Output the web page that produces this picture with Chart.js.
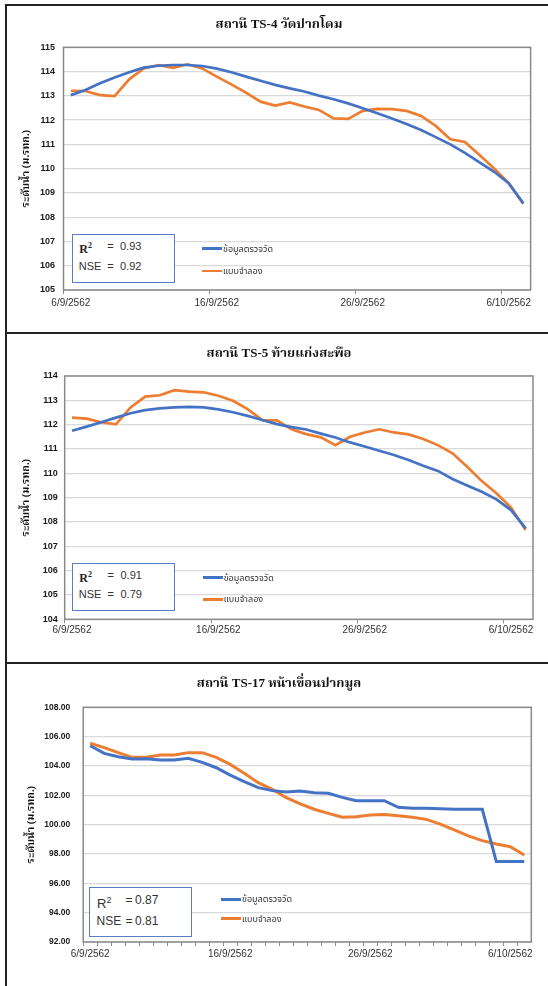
<!DOCTYPE html>
<html><head><meta charset="utf-8">
<script src="https://cdn.jsdelivr.net/npm/chart.js@4.4.0/dist/chart.umd.min.js"></script>
<style>
html,body{margin:0;padding:0;background:#fff;}
#page{position:relative;width:548px;height:986px;overflow:hidden;background:#fff;}
.panel{position:absolute;left:5px;width:620px;border-left:2px solid #222;border-top:2px solid #222;box-sizing:border-box;}
canvas{position:absolute;left:0;}
.ttl{position:absolute;left:0;width:558px;text-align:center;font-family:"Liberation Serif","Noto Serif Thai","Noto Sans Thai",serif;font-weight:bold;font-size:13px;color:#111;line-height:16px;white-space:nowrap;}
.stat{position:absolute;border:1.5px solid #5a7cc4;box-sizing:border-box;background:#fff;}
.stat span{position:absolute;white-space:nowrap;font-family:"Liberation Sans",sans-serif;color:#333;line-height:14px;}
.lg{position:absolute;white-space:nowrap;font-family:"Noto Sans Thai","Liberation Sans",sans-serif;font-size:9px;color:#333;line-height:12px;}
.lg i{position:absolute;left:0;width:20px;}
.lg b{position:absolute;font-weight:normal;}
</style></head>
<body><div id="page">
<div class="panel" style="top:4px;height:330px"></div>
<div class="panel" style="top:332px;height:332px"></div>
<div class="panel" style="top:662px;height:340px"></div>
<canvas id="c1" width="548" height="327" style="top:6px"></canvas>
<canvas id="c2" width="548" height="329" style="top:334px"></canvas>
<canvas id="c3" width="548" height="322" style="top:664px"></canvas>
</div>
<script>
// ---------- data ----------
const dateLabels = ['6/9/2562','7/9/2562','8/9/2562','9/9/2562','10/9/2562','11/9/2562','12/9/2562','13/9/2562',
  '14/9/2562','15/9/2562','16/9/2562','17/9/2562','18/9/2562','19/9/2562','20/9/2562','21/9/2562','22/9/2562',
  '23/9/2562','24/9/2562','25/9/2562','26/9/2562','27/9/2562','28/9/2562','29/9/2562','30/9/2562','1/10/2562',
  '2/10/2562','3/10/2562','4/10/2562','5/10/2562','6/10/2562','7/10/2562'];
const seriesNames = ['ข้อมูลตรวจวัด','แบบจำลอง'];
const chartTitles = ['สถานี  TS-4 วัดปากโดม','สถานี  TS-5 ท้ายแก่งสะพือ','สถานี  TS-17  หน้าเขื่อนปากมูล'];
const yAxisTitle = 'ระดับน้ำ (ม.รทก.)';
const statR2 = ['0.93','0.91','0.87'];
const statNSE = ['0.92','0.79','0.81'];

const ts4Observed = [113.03,113.24,113.52,113.76,113.97,114.16,114.24,114.27,114.27,114.23,114.12,113.97,113.79,113.62,113.45,113.31,
  113.18,113.01,112.86,112.69,112.49,112.28,112.07,111.84,111.59,111.30,111.00,110.65,110.26,109.87,109.40,108.57];
const ts4Model = [113.21,113.20,113.03,112.99,113.68,114.13,114.27,114.15,114.30,114.13,113.79,113.47,113.13,112.76,112.60,112.73,
  112.56,112.42,112.07,112.05,112.38,112.46,112.45,112.38,112.17,111.76,111.21,111.10,110.56,110.01,109.40,108.55];
const ts5Observed = [111.75,111.92,112.10,112.29,112.47,112.60,112.67,112.71,112.73,112.71,112.63,112.51,112.36,112.19,112.02,111.90,
  111.80,111.63,111.47,111.27,111.10,110.93,110.75,110.55,110.31,110.10,109.77,109.50,109.24,108.93,108.49,107.74];
const ts5Model = [112.29,112.25,112.10,112.01,112.71,113.15,113.21,113.42,113.36,113.33,113.19,112.98,112.64,112.19,112.18,111.81,
  111.61,111.48,111.16,111.50,111.68,111.81,111.68,111.60,111.41,111.16,110.82,110.27,109.68,109.18,108.59,107.67];
const ts17Observed = [105.38,104.86,104.63,104.48,104.50,104.41,104.41,104.52,104.25,103.88,103.38,102.93,102.52,102.32,102.23,102.29,
  102.18,102.14,101.86,101.63,101.63,101.63,101.18,101.11,101.11,101.09,101.05,101.05,101.05,97.48,97.48,97.48];
const ts17Model = [105.55,105.25,104.91,104.59,104.59,104.75,104.75,104.91,104.91,104.59,104.11,103.50,102.86,102.41,101.84,101.42,
  101.05,100.77,100.50,100.54,100.66,100.70,100.61,100.50,100.36,100.04,99.64,99.23,98.91,98.68,98.50,97.93];
const yMins = [105,104,92];
const yMaxs = [115,114,108];
const ySteps = [1,1,2];

// ---------- drawing ----------
const frame = {id:'frame', beforeDatasetsDraw(chart){
  const {ctx, chartArea:a} = chart; ctx.save(); ctx.strokeStyle='#8a8a8a'; ctx.lineWidth=1.5;
  ctx.strokeRect(a.left, a.top, a.right-a.left, a.bottom-a.top); ctx.restore(); }};

const tickFont = '"Liberation Sans Narrow","Liberation Sans",sans-serif';

function build(id, k, obs, mod, g){
  new Chart(document.getElementById(id), {
    type:'line',
    data:{labels:dateLabels, datasets:[
      {label:seriesNames[0], data:obs, borderColor:'#4472C4', borderWidth:g.lw, pointRadius:0, tension:0, fill:false},
      {label:seriesNames[1], data:mod, borderColor:'#ED7D31', borderWidth:g.lw, pointRadius:0, tension:0, fill:false}
    ]},
    options:{
      responsive:false, animation:false,
      layout:{padding:{left:g.pl, right:g.pr, top:g.pt, bottom:g.pb}},
      plugins:{legend:{display:false}, tooltip:{enabled:false}, title:{display:false}},
      scales:{
        x:{type:'category', offset:true,
          grid:{offset:true, drawOnChartArea:false, drawTicks:true, tickLength:4, lineWidth:1,
            color:(c)=> (c.index!==undefined && c.index % g.tickEvery===0) ? '#8a8a8a' : 'rgba(0,0,0,0)'},
          border:{display:false},
          ticks:{autoSkip:false, maxRotation:0, minRotation:0, padding:g.xp, color:'#333',
            font:{family:tickFont, size:10}, callback:(v,i)=> i%10===0 ? dateLabels[i] : ''},
          afterFit:(s)=>{ s.height = g.xh; }},
        y:{min:yMins[k], max:yMaxs[k],
          ticks:{stepSize:ySteps[k], padding:g.yp, color:'#1a1a1a', font:{family:tickFont, size:g.yfs, weight:'bold'},
            callback:(v)=> g.dec ? Number(v).toFixed(2) : v},
          grid:{color:'#d9d9d9', lineWidth:1.3, drawTicks:false},
          border:{display:false},
          title:{display:true, text:yAxisTitle, color:'#111', padding:{top:g.tp, bottom:0},
            font:{family:'"Liberation Serif","Noto Serif Thai","Noto Sans Thai",serif', size:10.5, weight:'bold'}},
          afterFit:(s)=>{ s.width = g.yw; }}
      }
    },
    plugins:[frame]
  });
}

build('c1', 0, ts4Observed, ts4Model, {lw:2.7, pl:8, pr:17.4, pt:41.3, pb:15, xh:28, yw:55.5, tp:11.7, xp:3.3, yp:8.5, yfs:9, dec:false, tickEvery:10});
build('c2', 1, ts5Observed, ts5Model, {lw:2.7, pl:8, pr:15, pt:42, pb:15.7, xh:28, yw:56.7, tp:11.9, xp:1.3, yp:7, yfs:9, dec:false, tickEvery:10});
build('c3', 2, ts17Observed, ts17Model, {lw:3, pl:8, pr:16.7, pt:43.3, pb:16, xh:28, yw:75.2, tp:16.5, xp:2.6, yp:13, yfs:8.5, dec:true, tickEvery:1});

// ---------- overlays: titles, stat boxes, legends ----------
const page = document.getElementById('page');
const titleY = [16, 345, 675];
chartTitles.forEach((t,i)=>{ const d=document.createElement('div'); d.className='ttl'; d.style.top=titleY[i]+'px'; d.textContent=t; page.appendChild(d); });

const statGeo = [
  {l:71.7, t:234, w:103, h:48.7, r2y:4, nsy:23.5, rx:6.6, ex:34.5, vx:47.3, fs:11, serifR:true},
  {l:71.7, t:562.7, w:103.8, h:48.3, r2y:4.3, nsy:23.5, rx:6.6, ex:34.8, vx:47.8, fs:11, serifR:true},
  {l:89, t:886.7, w:102.5, h:50, r2y:5, nsy:26.5, rx:7.1, ex:35.5, vx:45, fs:12, serifR:false}
];
statGeo.forEach((g,i)=>{
  const b=document.createElement('div'); b.className='stat';
  Object.assign(b.style,{left:g.l+'px', top:g.t+'px', width:g.w+'px', height:g.h+'px'});
  const rFont = g.serifR ? 'font-family:\'Liberation Serif\',serif;font-weight:bold;color:#222;' : '';
  b.innerHTML =
    `<span style="left:${g.rx}px;top:${g.r2y}px;font-size:${g.fs+1}px;${rFont}">R<sup style="font-size:${g.fs-3}px;vertical-align:5px">2</sup></span>`+
    `<span style="left:${g.ex}px;top:${g.r2y}px;font-size:${g.fs}px">=</span>`+
    `<span style="left:${g.vx}px;top:${g.r2y}px;font-size:${g.fs}px">${statR2[i]}</span>`+
    `<span style="left:${g.rx-0.5}px;top:${g.nsy}px;font-size:${g.fs}px">NSE</span>`+
    `<span style="left:${g.ex}px;top:${g.nsy}px;font-size:${g.fs}px">=</span>`+
    `<span style="left:${g.vx}px;top:${g.nsy}px;font-size:${g.fs}px">${statNSE[i]}</span>`;
  page.appendChild(b);
});

const legGeo = [ {x:202, y:[248.7,271], lw:2.7}, {x:202.7, y:[577.7,599.3], lw:2.7}, {x:221, y:[899.3,918.7], lw:3} ];
const legColors = ['#4472C4','#ED7D31'];
legGeo.forEach(g=>{
  seriesNames.forEach((n,j)=>{
    const d=document.createElement('div'); d.className='lg';
    Object.assign(d.style,{left:g.x+'px', top:(g.y[j]-6)+'px', width:'120px', height:'12px'});
    d.innerHTML = `<i style="top:${6-g.lw/2}px;height:${g.lw}px;background:${legColors[j]}"></i><b style="left:21px;top:0">${n}</b>`;
    page.appendChild(d);
  });
});
</script>
</body></html>
